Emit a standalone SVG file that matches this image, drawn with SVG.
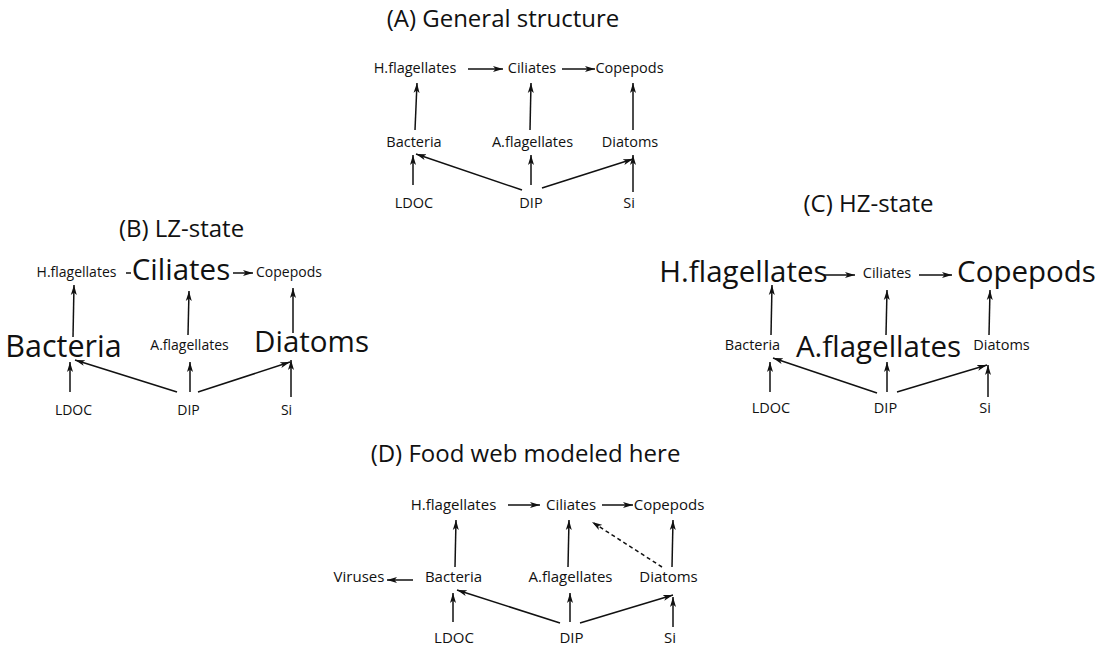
<svg xmlns="http://www.w3.org/2000/svg" width="1099" height="650" viewBox="0 0 1099 650">
<style>
text{font-family:"Open Sans","Noto Sans","DejaVu Sans",sans-serif;fill:#111;text-anchor:middle}
.t{font-size:24px}
.s{font-size:14.5px}
.L{font-size:29.5px}
.c line{stroke:#111;stroke-width:1.5;fill:none}
.c line.a{marker-end:url(#ah)}
.c line.d{stroke-dasharray:4 3}
</style>
<defs>
<marker id="ah" markerUnits="userSpaceOnUse" markerWidth="11" markerHeight="7" refX="10" refY="3.5" orient="auto">
<path d="M0,0.5 L10,3.5 L0,6.5 L2.5,3.5 z" fill="#111"/>
</marker>
</defs>
<rect width="1099" height="650" fill="#fff"/>

<!-- Panel A -->
<g id="titleA"><text class="t" x="503" y="27">(A) General structure</text></g>
<g id="A_hflag"><text class="s" x="415" y="73">H.flagellates</text></g>
<g id="A_cil"><text class="s" x="532" y="73">Ciliates</text></g>
<g id="A_cop"><text class="s" x="629.5" y="73">Copepods</text></g>
<g id="A_bac"><text class="s" x="414" y="147">Bacteria</text></g>
<g id="A_aflag"><text class="s" x="532.5" y="147">A.flagellates</text></g>
<g id="A_dia"><text class="s" x="630" y="147">Diatoms</text></g>
<g id="A_ldoc"><text class="s" x="414" y="208">LDOC</text></g>
<g id="A_dip"><text class="s" x="531" y="208">DIP</text></g>
<g id="A_si"><text class="s" x="629" y="208">Si</text></g>

<!-- Panel B -->
<g id="titleB"><text class="t" x="181.5" y="237">(B) LZ-state</text></g>
<g id="B_hflag"><text class="s" x="76.5" y="277" style="font-size:14px">H.flagellates</text></g>
<g id="B_cil"><text class="L" x="181" y="280">Ciliates</text></g>
<g id="B_cop"><text class="s" x="289" y="277" style="font-size:14px">Copepods</text></g>
<g id="B_bac"><text class="L" x="63.5" y="357" style="font-size:30.5px">Bacteria</text></g>
<g id="B_aflag"><text class="s" x="189.5" y="350" style="font-size:14px">A.flagellates</text></g>
<g id="B_dia"><text class="L" x="311.5" y="352">Diatoms</text></g>
<g id="B_ldoc"><text class="s" x="73.5" y="415" style="font-size:14px">LDOC</text></g>
<g id="B_dip"><text class="s" x="188.5" y="415" style="font-size:14px">DIP</text></g>
<g id="B_si"><text class="s" x="286.5" y="415" style="font-size:14px">Si</text></g>

<!-- Panel C -->
<g id="titleC"><text class="t" x="868.5" y="212">(C) HZ-state</text></g>
<g id="C_hflag"><text class="L" x="743.5" y="282">H.flagellates</text></g>
<g id="C_cil"><text class="s" x="887" y="278">Ciliates</text></g>
<g id="C_cop"><text class="L" x="1026.5" y="282">Copepods</text></g>
<g id="C_bac"><text class="s" x="752.5" y="350">Bacteria</text></g>
<g id="C_aflag"><text class="L" x="878.5" y="357">A.flagellates</text></g>
<g id="C_dia"><text class="s" x="1001.5" y="350">Diatoms</text></g>
<g id="C_ldoc"><text class="s" x="771" y="413">LDOC</text></g>
<g id="C_dip"><text class="s" x="885.5" y="413">DIP</text></g>
<g id="C_si"><text class="s" x="985" y="413">Si</text></g>

<!-- Panel D -->
<g id="titleD"><text class="t" x="525.5" y="462">(D) Food web modeled here</text></g>
<g id="D_hflag"><text class="s" x="453.5" y="510" style="font-size:15px">H.flagellates</text></g>
<g id="D_cil"><text class="s" x="571" y="510" style="font-size:15px">Ciliates</text></g>
<g id="D_cop"><text class="s" x="669" y="510" style="font-size:15px">Copepods</text></g>
<g id="D_vir"><text class="s" x="359" y="582" style="font-size:15px">Viruses</text></g>
<g id="D_bac"><text class="s" x="453.5" y="582" style="font-size:15px">Bacteria</text></g>
<g id="D_aflag"><text class="s" x="570.5" y="582" style="font-size:15px">A.flagellates</text></g>
<g id="D_dia"><text class="s" x="668.5" y="582" style="font-size:15px">Diatoms</text></g>
<g id="D_ldoc"><text class="s" x="454" y="643" style="font-size:15px">LDOC</text></g>
<g id="D_dip"><text class="s" x="571.5" y="643" style="font-size:15px">DIP</text></g>
<g id="D_si"><text class="s" x="670" y="643" style="font-size:15px">Si</text></g>

<g id="connectors" class="c">
<!-- A -->
<line class="a" x1="468" y1="69" x2="503" y2="69"/>
<line class="a" x1="562" y1="69" x2="595" y2="69"/>
<line class="a" x1="415" y1="130" x2="417" y2="83"/>
<line class="a" x1="530" y1="130" x2="531" y2="83"/>
<line class="a" x1="633" y1="130" x2="633" y2="83"/>
<line class="a" x1="413" y1="185" x2="413" y2="155"/>
<line class="a" x1="531" y1="185" x2="531" y2="155"/>
<line class="a" x1="633" y1="192" x2="633" y2="155"/>
<line class="a" x1="522" y1="190" x2="416" y2="154"/>
<line class="a" x1="542" y1="188" x2="633" y2="159"/>
<!-- B -->
<line x1="126" y1="273" x2="131" y2="273"/>
<line class="a" x1="233" y1="273" x2="253" y2="273"/>
<line class="a" x1="73" y1="337" x2="74" y2="285"/>
<line class="a" x1="188" y1="335" x2="189" y2="291"/>
<line class="a" x1="293" y1="333" x2="293" y2="288"/>
<line class="a" x1="70" y1="392" x2="70" y2="362"/>
<line class="a" x1="190" y1="392" x2="190" y2="362"/>
<line class="a" x1="291" y1="397" x2="291" y2="360"/>
<line class="a" x1="177" y1="392" x2="75" y2="360"/>
<line class="a" x1="198" y1="392" x2="290" y2="362"/>
<!-- C -->
<line class="a" x1="823" y1="275" x2="855" y2="275"/>
<line class="a" x1="919" y1="275" x2="952" y2="275"/>
<line class="a" x1="771" y1="335" x2="772" y2="285"/>
<line class="a" x1="886" y1="335" x2="887" y2="290"/>
<line class="a" x1="989" y1="335" x2="990" y2="290"/>
<line class="a" x1="770" y1="392" x2="770" y2="362"/>
<line class="a" x1="887" y1="392" x2="887" y2="362"/>
<line class="a" x1="988" y1="397" x2="988" y2="365"/>
<line class="a" x1="877" y1="393" x2="773" y2="358"/>
<line class="a" x1="897" y1="392" x2="987" y2="365"/>
<!-- D -->
<line class="a" x1="508" y1="505" x2="540" y2="505"/>
<line class="a" x1="602" y1="505" x2="633" y2="505"/>
<line class="a" x1="455" y1="567" x2="456" y2="520"/>
<line class="a" x1="568" y1="567" x2="569" y2="520"/>
<line class="a" x1="672" y1="567" x2="673" y2="520"/>
<line class="a d" x1="662" y1="567" x2="592" y2="522"/>
<line class="a" x1="413" y1="580" x2="387" y2="580"/>
<line class="a" x1="453" y1="622" x2="453" y2="593"/>
<line class="a" x1="570" y1="622" x2="570" y2="593"/>
<line class="a" x1="673" y1="627" x2="673" y2="597"/>
<line class="a" x1="560" y1="623" x2="457" y2="590"/>
<line class="a" x1="580" y1="623" x2="673" y2="595"/>
</g>
</svg>
